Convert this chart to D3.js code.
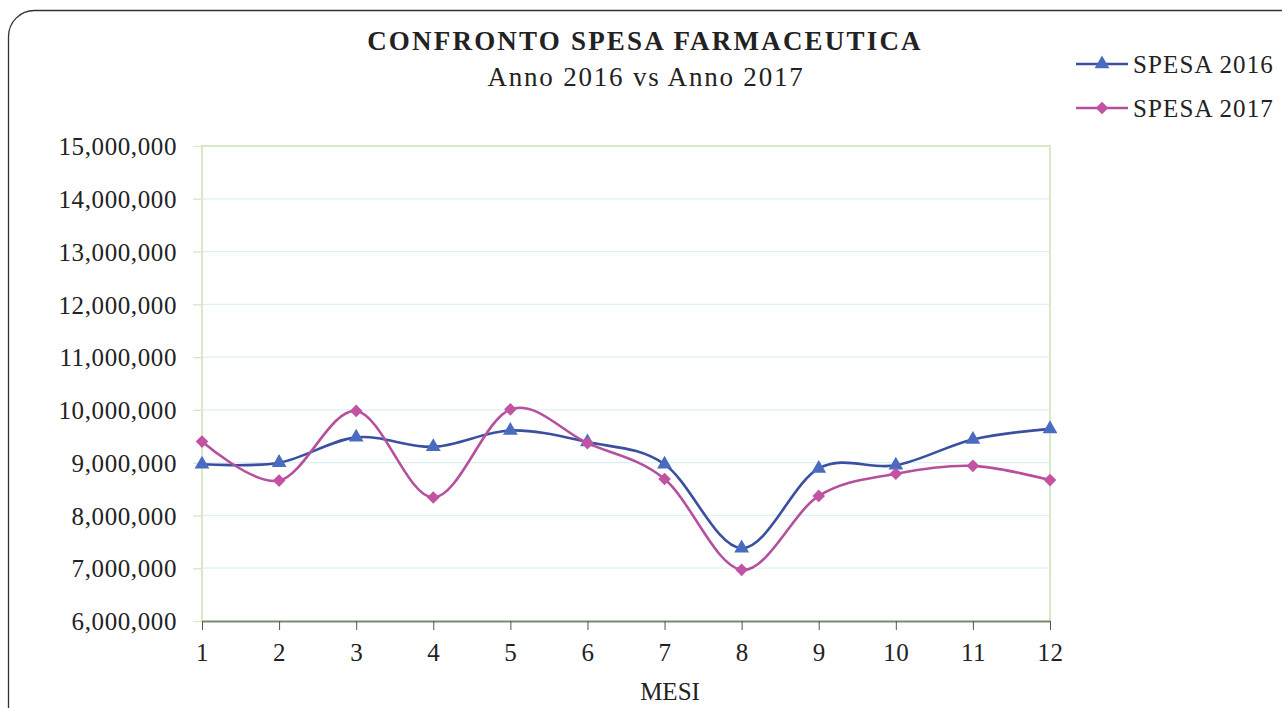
<!DOCTYPE html>
<html>
<head>
<meta charset="utf-8">
<script src="https://cdn.jsdelivr.net/npm/d3@7"></script>
<style>
  body { margin: 0; background: #fff; }
  svg { display: block; font-family: "Liberation Serif", "DejaVu Serif", serif; }
</style>
</head>
<body>
<div id="chart"></div>
<script>
const months = [1, 2, 3, 4, 5, 6, 7, 8, 9, 10, 11, 12];
const spesa2016 = [8970000, 9000000, 9480000, 9300000, 9610000, 9390000, 8970000, 7380000, 8890000, 8950000, 9440000, 9640000];
const spesa2017 = [9400000, 8660000, 9980000, 8340000, 10010000, 9370000, 8690000, 6970000, 8370000, 8790000, 8940000, 8670000];
const yTicks = [6000000, 7000000, 8000000, 9000000, 10000000, 11000000, 12000000, 13000000, 14000000, 15000000];

const width = 1282, height = 708;
const margin = { top: 146, right: 232, bottom: 87, left: 202 };

const svg = d3.select('#chart')
  .append('svg')
  .attr('width', width)
  .attr('height', height);

// outer frame with rounded corner (runs off the right and bottom)
svg.append('rect')
  .attr('x', 8.5).attr('y', 10.5)
  .attr('width', 1400).attr('height', 900)
  .attr('rx', 26).attr('ry', 26)
  .attr('fill', 'none')
  .attr('stroke', '#333')
  .attr('stroke-width', 1.3);

const x = d3.scaleLinear()
  .domain([1, 12])
  .range([margin.left, width - margin.right]);

const y = d3.scaleLinear()
  .domain([6000000, 15000000])
  .range([height - margin.bottom, margin.top]);

const fmt = d3.format(',');

// horizontal gridlines
svg.append('g')
  .selectAll('line')
  .data(yTicks.slice(1, -1))
  .join('line')
  .attr('x1', x(1)).attr('x2', x(12))
  .attr('y1', d => y(d)).attr('y2', d => y(d))
  .attr('stroke', '#dcf0f4')
  .attr('stroke-width', 1.3);

// plot border (top, left, right) in light green
svg.append('path')
  .attr('d', `M${x(1)},${y(6000000)}V${y(15000000)}H${x(12)}V${y(6000000)}`)
  .attr('fill', 'none')
  .attr('stroke', '#d6e8c6')
  .attr('stroke-width', 2);

// y axis
const yAxis = svg.append('g')
  .attr('transform', `translate(${x(1)},0)`)
  .call(d3.axisLeft(y).tickValues(yTicks).tickFormat(fmt).tickSize(9).tickPadding(16));
yAxis.select('.domain').remove();
yAxis.selectAll('.tick line').attr('stroke', '#d6e8c6').attr('stroke-width', 1.3);
yAxis.selectAll('.tick text')
  .attr('fill', '#222')
  .style('font-size', '25px')
  .style('letter-spacing', '0.6px')
  .style('font-family', '"Liberation Serif", serif')
  .attr('dy', '0.35em');

// x axis
const xAxis = svg.append('g')
  .attr('transform', `translate(0,${y(6000000)})`)
  .call(d3.axisBottom(x).tickValues(months).tickFormat(d3.format('d')).tickSize(9).tickPadding(13).tickSizeOuter(0));
xAxis.select('.domain').attr('stroke', '#7a8a70').attr('stroke-width', 2.2);
xAxis.selectAll('.tick line').attr('stroke', '#555').attr('stroke-width', 1);
xAxis.selectAll('.tick text')
  .attr('fill', '#222')
  .style('font-size', '25px')
  .style('letter-spacing', '0.5px')
  .style('font-family', '"Liberation Serif", serif');

// titles
svg.append('text')
  .attr('x', 645).attr('y', 50)
  .attr('text-anchor', 'middle')
  .attr('font-weight', 'bold')
  .attr('font-size', 27)
  .attr('letter-spacing', 2.2)
  .attr('fill', '#222')
  .text('CONFRONTO SPESA FARMACEUTICA');

svg.append('text')
  .attr('x', 646).attr('y', 86)
  .attr('text-anchor', 'middle')
  .attr('font-size', 27)
  .attr('letter-spacing', 1.8)
  .attr('fill', '#222')
  .text('Anno 2016 vs Anno 2017');

svg.append('text')
  .attr('x', 670).attr('y', 700)
  .attr('text-anchor', 'middle')
  .attr('font-size', 25)
  .attr('fill', '#222')
  .text('MESI');

const series = [
  { name: 'SPESA 2016', values: spesa2016, line: '#3a4fa0', marker: '#4a6cc0', symbol: d3.symbolTriangle, size: 95, rot: 0 },
  { name: 'SPESA 2017', values: spesa2017, line: '#b6509e', marker: '#c352a3', symbol: d3.symbolSquare, size: 80, rot: 45 },
];

const line = d3.line()
  .x((d, i) => x(months[i]))
  .y(d => y(d))
  .curve(d3.curveCardinal.tension(0));

series.forEach(s => {
  svg.append('path')
    .datum(s.values)
    .attr('d', line)
    .attr('fill', 'none')
    .attr('stroke', s.line)
    .attr('stroke-width', 2.6);

  svg.append('g')
    .selectAll('path')
    .data(s.values)
    .join('path')
    .attr('transform', (d, i) => `translate(${x(months[i])},${y(d)}) rotate(${s.rot})`)
    .attr('d', d3.symbol().type(s.symbol).size(s.size))
    .attr('fill', s.marker);
});

// legend
const legend = svg.append('g')
  .selectAll('g')
  .data(series)
  .join('g')
  .attr('transform', (d, i) => `translate(1076,${64 + i * 44})`);

legend.append('line')
  .attr('x1', 0).attr('x2', 52)
  .attr('stroke', d => d.line)
  .attr('stroke-width', 2.6);

legend.append('path')
  .attr('transform', d => `translate(26,0) rotate(${d.rot})`)
  .attr('d', d => d3.symbol().type(d.symbol).size(d.size)())
  .attr('fill', d => d.marker);

legend.append('text')
  .attr('x', 57).attr('y', 9)
  .attr('font-size', 25)
  .attr('letter-spacing', 1.1)
  .attr('fill', '#222')
  .text(d => d.name);
</script>
</body>
</html>
